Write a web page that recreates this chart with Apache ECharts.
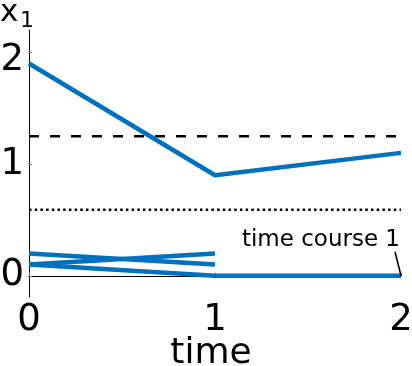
<!DOCTYPE html>
<html><head><meta charset="utf-8">
<script src="https://cdn.jsdelivr.net/npm/echarts@6/dist/echarts.min.js"></script>
<style>html,body{margin:0;padding:0;background:#fff}#c{width:412px;height:366px}</style>
</head><body><div id="c"></div>
<script>
const times = [0, 1, 2];
const course1 = [1.9, 0.9, 1.1];
const course2 = [0.2, 0.1];
const course3 = [0.1, 0.2];
const course4 = [0.1, 0, 0];
const dashedLevel = 1.25;
const dottedLevel = 0.59;
const xTickValues = [0, 1, 2];
const yTickValues = [0, 1, 2];
const xTitle = 'time';
const yTitleMain = 'x';
const yTitleSub = '1';
const annotation = 'time course 1';

const FONT = '"DejaVu Sans", sans-serif';
const BLUE = '#0072BD';
const LABEL_SIZE = 37;
function pts(vals) { return vals.map((v, i) => [times[i], v]); }
function level(v) { return [[times[0], v], [times[times.length - 1], v]]; }

const blueLine = { type: 'line', showSymbol: false, symbol: 'none', silent: true,
  lineStyle: { color: BLUE, width: 4.5 }, z: 3 };

const axisCommon = {
  type: 'value',
  axisLine: { show: true, lineStyle: { color: '#000', width: 1 } },
  axisTick: { show: true, inside: true, length: 3, lineStyle: { color: '#777' } },
  splitLine: { show: false },
  axisLabel: { color: '#000', fontFamily: FONT, fontSize: LABEL_SIZE }
};
const labelRich = {
  n: { color: '#000', fontFamily: FONT, fontSize: LABEL_SIZE },
  top: { color: '#000', fontFamily: FONT, fontSize: LABEL_SIZE, padding: [16, 0, 0, 0] }
};

const chart = echarts.init(document.getElementById('c'), null, { renderer: 'canvas' });
chart.setOption({
  animation: false,
  backgroundColor: '#fff',
  grid: { left: 29, right: 11, top: 30, bottom: 69, containLabel: false, outerBoundsMode: 'none' },
  xAxis: Object.assign({}, axisCommon, {
    min: 0, max: 2,
    axisTick: Object.assign({}, axisCommon.axisTick, { customValues: xTickValues }),
    axisLabel: Object.assign({}, axisCommon.axisLabel, { customValues: xTickValues, margin: 5 }),
    name: xTitle, nameLocation: 'middle', nameGap: 39, nameMoveOverlap: false,
    nameTextStyle: { color: '#000', fontFamily: FONT, fontSize: 36, padding: [0, 8, 0, 0] }
  }),
  yAxis: Object.assign({}, axisCommon, {
    min: -0.19, max: 2.2,
    axisTick: Object.assign({}, axisCommon.axisTick, { customValues: yTickValues }),
    axisLabel: Object.assign({}, axisCommon.axisLabel, {
      customValues: yTickValues, margin: 5, rich: labelRich,
      formatter: function (v) { return v === yTickValues[yTickValues.length - 1] ? '{top|' + v + '}' : '{n|' + v + '}'; }
    })
  }),
  series: [
    { type: 'line', showSymbol: false, symbol: 'none', silent: true, z: 2,
      data: level(dashedLevel), lineStyle: { color: '#000', width: 2.5, type: [10, 11] } },
    { type: 'line', showSymbol: false, symbol: 'none', silent: true, z: 2,
      data: level(dottedLevel), lineStyle: { color: '#000', width: 2.5, type: [2.5, 3.2] } },
    Object.assign({}, blueLine, { data: pts(course1) }),
    Object.assign({}, blueLine, { data: pts(course2) }),
    Object.assign({}, blueLine, { data: pts(course3) }),
    Object.assign({}, blueLine, { data: pts(course4) })
  ]
});

const p = chart.convertToPixel({ xAxisIndex: 0, yAxisIndex: 0 }, [times[2], course4[2]]);
chart.setOption({
  graphic: [
    { type: 'line', silent: true, z: 10,
      shape: { x1: p[0], y1: p[1], x2: p[0] - 6, y2: p[1] - 24 },
      style: { stroke: '#000', lineWidth: 1.5 } },
    { type: 'text', silent: true, z: 10,
      style: { text: annotation, x: p[0] - 1, y: p[1] - 24, align: 'right', verticalAlign: 'bottom',
        font: '23px ' + FONT, fill: '#000' } },
    { type: 'text', silent: true, z: 10,
      style: { text: yTitleMain, x: 0, y: 28, align: 'left', verticalAlign: 'bottom',
        font: '31px ' + FONT, fill: '#000' } },
    { type: 'text', silent: true, z: 10,
      style: { text: yTitleSub, x: 20, y: 32, align: 'left', verticalAlign: 'bottom',
        font: '22px ' + FONT, fill: '#000' } }
  ]
});
</script>
</body></html>
